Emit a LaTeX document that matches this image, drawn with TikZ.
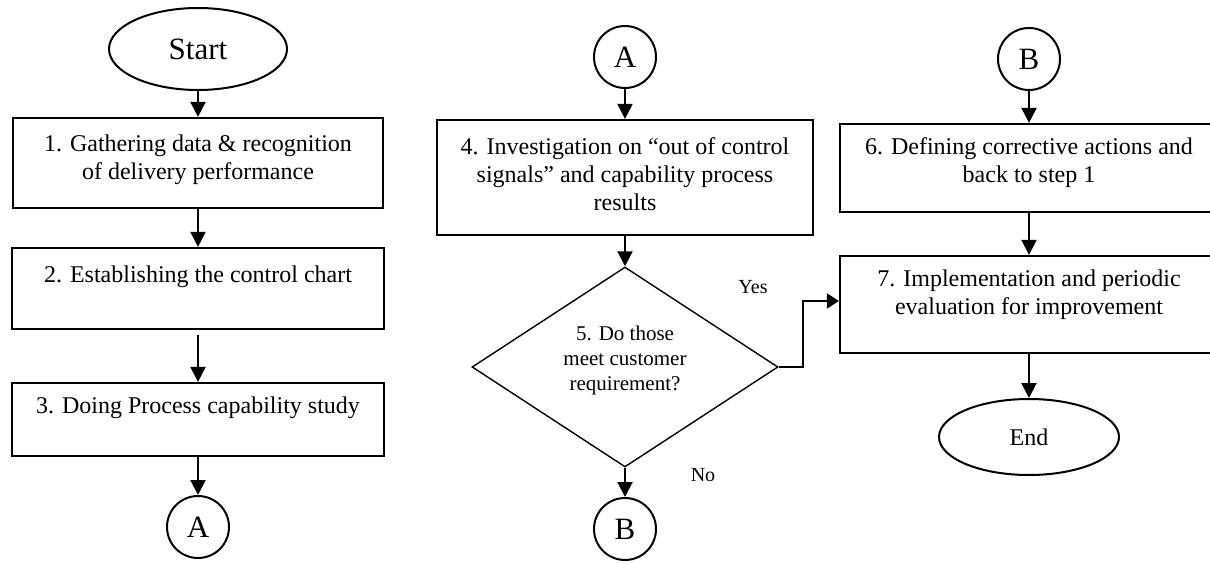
\documentclass[tikz,border=0pt]{standalone}
\usepackage{fontspec}
\setmainfont{Liberation Serif}
\usetikzlibrary{shapes.geometric,arrows.meta}
\begin{document}
\begin{tikzpicture}[x=1pt,y=-1pt,
    every node/.style={inner sep=0pt},
    terminal/.style={draw,ellipse,line width=2pt},
    stepbox/.style={draw,rectangle,line width=2.2pt},
    steptext/.style={align=center,font=\fontsize{24}{28}\selectfont},
    joint/.style={draw,circle,line width=2pt,minimum size=62pt,font=\fontsize{31}{31}\selectfont},
    decision/.style={draw,diamond,line width=1.4pt},
    answer/.style={font=\fontsize{20}{24}\selectfont}]
      \useasboundingbox (0,0) rectangle (1210,564);
      \draw
        (198,49) node[terminal,minimum width=178pt,minimum height=82pt,font=\fontsize{31}{31}\selectfont] (start){Start}
        (198,163) node[stepbox,minimum width=370pt,minimum height=90pt] (s1){}
        (198,288.5) node[stepbox,minimum width=372pt,minimum height=81pt] (s2){}
        (198,419.5) node[stepbox,minimum width=372pt,minimum height=73pt] (s3){}
        (198,527) node[joint] (a1){A}
        (625,57) node[joint] (a2){A}
        (625,177.5) node[stepbox,minimum width=376pt,minimum height=115pt] (s4){}
        (625,367) node[decision,minimum width=306pt,minimum height=200pt] (s5){}
        (625,529) node[joint] (b1){B}
        (1029,59) node[joint] (b2){B}
        (1029,168) node[stepbox,minimum width=378pt,minimum height=88pt] (s6){}
        (1029,304.5) node[stepbox,minimum width=378pt,minimum height=97pt] (s7){}
        (1029,437) node[terminal,minimum width=180pt,minimum height=76pt,font=\fontsize{24}{24}\selectfont] (stop){End};
      \draw
        (198,160) node[steptext] (t1){1. Gathering data \& recognition\\of delivery performance}
        (198,277) node[steptext] (t2){2. Establishing the control chart}
        (198,408) node[steptext] (t3){3. Doing Process capability study}
        (625,174) node[steptext] (t4){4. Investigation on “out of control\\signals” and capability process\\results}
        (625,360) node[steptext,font=\fontsize{21}{25}\selectfont] (t5){5. Do those\\meet customer\\requirement?}
        (1029,163) node[steptext] (t6){6. Defining corrective actions and\\back to step 1}
        (1029,295) node[steptext] (t7){7. Implementation and periodic\\evaluation for improvement}
        (753,287) node[answer] (yes){Yes}
        (703,475) node[answer] (no){No};
      \coordinate (bend) at (803,301);
      \begin{scope}[line width=2pt,-{Triangle[length=15pt,width=15pt]}]
        \draw (start) to (s1);
        \draw (s1) to (s2);
        \draw[shorten <=5pt] (s2) to (s3);
        \draw (s3) to (a1);
        \draw (a2) to (s4);
        \draw (s4) to (s5);
        \draw (s5) to (b1);
        \draw (b2) to (s6);
        \draw (s6) to (s7);
        \draw (s7) to (stop);
        \draw[-{Triangle[length=12pt,width=15pt]}] (s5.east) -| (bend) -- (bend -| s7.west);
      \end{scope}
    \end{tikzpicture}
\end{document}
